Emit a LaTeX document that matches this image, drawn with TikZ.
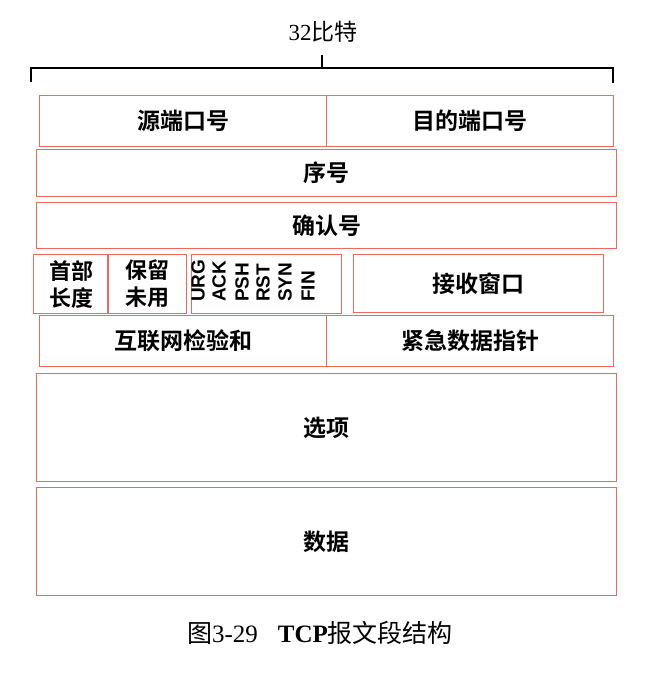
\documentclass[tikz,border=0pt]{standalone}
\usepackage{fontspec}
\usetikzlibrary{calc}
\setmainfont{Liberation Serif}
\newfontfamily\cjk{Noto Sans CJK SC}
\newfontfamily\hei{Noto Sans CJK SC Bold}
\newfontfamily\flagfont{Liberation Sans}
\definecolor{fieldred}{RGB}{240,104,92}
\begin{document}
\begin{tikzpicture}[x=1pt,y=-1pt,
  field/.style={draw=fieldred, line width=1.2pt, anchor=north west, inner sep=0pt,
    font=\hei\fontsize{23}{27}\selectfont},
  twoline/.style={align=center, font=\hei\fontsize{22}{27}\selectfont},
  flag/.style={rotate=90, anchor=west, inner sep=0pt,
    font=\flagfont\bfseries\fontsize{19}{19}\selectfont},
  bracket/.style={draw=black, line width=1.6pt}]
\useasboundingbox (0,0) rectangle (658,676);

% width marker above the header
\node[font=\fontsize{23}{26}\selectfont] (width) at (323,32) {32{\cjk 比特}};
\coordinate (bl) at (31,68);
\coordinate (br) at (613,68);
\coordinate (bm) at (322,68);
\draw[bracket] ($(bl)+(0,14)$) -- (bl) -- (br) -- ($(br)+(0,15)$);
\draw[line width=1.2pt] (bm) -- ++(0,-13);

% row 1: ports
\node[field, minimum width=287pt, minimum height=51pt] (src) at (39,95) {源端口号};
\node[field, minimum width=287pt, minimum height=51pt] (dst) at (326,95) {目的端口号};
% row 2: sequence number
\node[field, minimum width=580pt, minimum height=47pt] (seq) at (36,149) {序号};
% row 3: acknowledgement number
\node[field, minimum width=580pt, minimum height=46pt] (ack) at (36,202) {确认号};
% row 4: header length, reserved, flags, window
\node[field, twoline, minimum width=75pt, minimum height=59pt] (hlen) at (33,254) {首部\\长度};
\node[field, twoline, minimum width=79pt, minimum height=59pt] (rsv) at (107,254) {保留\\未用};
\node[field, minimum width=150pt, minimum height=59pt] (flags) at (191,254) {};
\node[field, minimum width=250pt, minimum height=58pt] (win) at (353,254) {接收窗口};
\node[flag] (urg) at (198,302) {URG};
\node[flag] (fack) at (219,302) {ACK};
\node[flag] (psh) at (242,302) {PSH};
\node[flag] (rst) at (263,302) {RST};
\node[flag] (syn) at (285,302) {SYN};
\node[flag] (fin) at (308,302) {FIN};
% row 5: checksum, urgent pointer
\node[field, minimum width=287pt, minimum height=51pt] (csum) at (39,315) {互联网检验和};
\node[field, minimum width=287pt, minimum height=51pt] (urgp) at (326,315) {紧急数据指针};
% options and data
\node[field, minimum width=580pt, minimum height=108pt] (opt) at (36,373) {选项};
\node[field, minimum width=580pt, minimum height=108pt] (data) at (36,487) {数据};

% caption
\node[font=\fontsize{25}{28}\selectfont] (cap) at (320,633)
  {{\cjk 图}3-29\hspace{20pt}\textbf{TCP}{\cjk 报文段结构}};
\end{tikzpicture}
\end{document}
